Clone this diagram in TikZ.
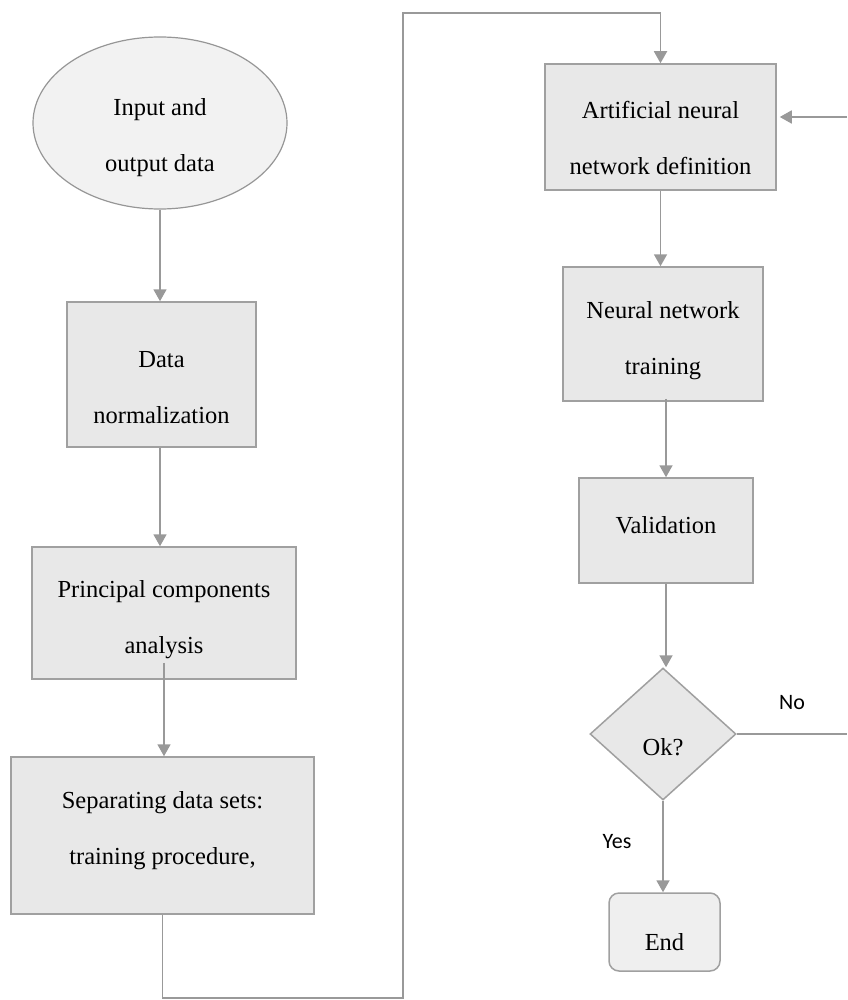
\documentclass[tikz,border=0pt]{standalone}
\usepackage{fontspec}
\setmainfont{Liberation Serif}
\newfontfamily\lblfont{Carlito}
\usetikzlibrary{arrows.meta,shapes.geometric}
\definecolor{boxfill}{HTML}{E8E8E8}
\definecolor{ellfill}{HTML}{F2F2F2}
\definecolor{endfill}{HTML}{EFEFEF}
\definecolor{edgegray}{HTML}{A0A0A0}
\definecolor{conn}{HTML}{999999}
\begin{document}
\begin{tikzpicture}[x=1pt,y=-1pt,
  txt/.style={font=\fontsize{24.5}{56}\selectfont, align=center, text=black},
  procbox/.style={rectangle, draw=edgegray, line width=1.5pt, fill=boxfill, inner sep=0pt},
  ellbox/.style={ellipse, draw=edgegray!110, line width=1.2pt, fill=ellfill, inner sep=0pt},
  decbox/.style={diamond, draw=edgegray, line width=1.5pt, fill=boxfill, inner sep=0pt},
  endbox/.style={rectangle, rounded corners=10pt, draw=edgegray, line width=1.5pt, fill=endfill, inner sep=0pt},
  lbl/.style={font=\lblfont\fontsize{22}{26}\selectfont, text=black},
  arr/.style={draw=conn, line width=1.8pt, -{Triangle[width=13pt,length=12pt]}},
  ln/.style={draw=conn, line width=1.8pt}
]
\useasboundingbox (0,0) rectangle (847,1000);

% left column
\node[ellbox, minimum width=254pt, minimum height=172pt,
  label={[txt,yshift=-15pt]center:{Input and\\output data}}] (ell) at (160,123) {};
\node[procbox, minimum width=189pt, minimum height=145pt,
  label={[txt,yshift=-13pt]center:{Data\\normalization}}] (dn) at (161.5,374.5) {};
\node[procbox, minimum width=264pt, minimum height=132pt,
  label={[txt,yshift=-7pt]center:{Principal components\\analysis}}] (pca) at (164,613) {};
\node[procbox, minimum width=303pt, minimum height=157pt,
  label={[txt,yshift=5pt]center:{Separating data sets:\\training procedure,}}] (sep) at (162.5,835.5) {};

% right column
\node[procbox, minimum width=231pt, minimum height=126pt,
  label={[txt,yshift=-11pt]center:{Artificial neural\\network definition}}] (ann) at (660.5,127) {};
\node[procbox, minimum width=200pt, minimum height=134pt,
  label={[txt,yshift=-7pt]center:{Neural network\\training}}] (nn) at (663,334) {};
\node[procbox, minimum width=174pt, minimum height=105pt,
  label={[txt,yshift=5pt]center:{Validation}}] (val) at (666,530.5) {};
\node[decbox, minimum width=146pt, minimum height=132pt, aspect=1.106,
  label={[txt,yshift=-13pt]center:{Ok?}}] (dia) at (663,734) {};
\node[endbox, minimum width=111pt, minimum height=78pt,
  label={[txt,yshift=-10pt]center:{End}}] (end) at (664.5,932) {};

% labels
\node[lbl] (no) at (792,703) {No};
\node[lbl] (yes) at (617,842) {Yes};

% free ends
\coordinate (bl) at (403,998);
\coordinate (tl) at (403,13);
\coordinate (noend) at (847,734);
\coordinate (back) at (847,117);

% connectors
\draw[arr] (ell.south) -- (ell.south |- dn.north);
\draw[arr] (ell.south |- dn.south) -- (ell.south |- pca.north);
\draw[arr] ([yshift=17pt]pca.south) -- (pca.south |- sep.north);
\draw[arr] (sep.south) |- (bl) -- (tl) -| (ann.north);
\draw[arr] (ann.south) -- (ann.south |- nn.north);
\draw[arr] ([yshift=3pt]val.north |- nn.south) -- (val.north);
\draw[arr] (val.south) -- (val.south |- dia.north);
\draw[arr] (dia.south) -- (dia.south |- end.north);
\draw[ln] (dia.east) -- (noend);
\draw[arr] (back) -- ([xshift=3pt]back -| ann.east);
\end{tikzpicture}
\end{document}
